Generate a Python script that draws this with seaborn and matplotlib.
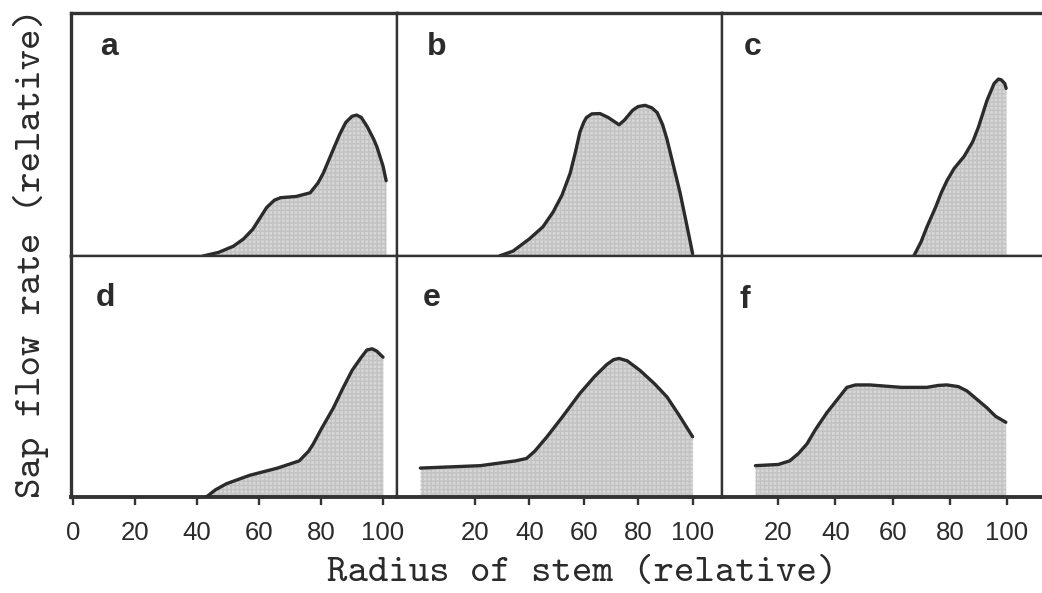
import matplotlib
matplotlib.use("Agg")
import matplotlib.pyplot as plt
import seaborn as sns
import pandas as pd

# ---- data (relative radius, relative sap flow) ----
a_x = [42, 47, 51.7, 55, 58, 60.5, 62.5, 65, 67, 72, 76.5, 79, 80.7, 84, 86, 88, 90, 91.5, 93, 95, 97, 98, 100, 101]
a_y = [0, 1.5, 4, 7, 11, 16, 20, 23, 24, 24.5, 26, 30, 34, 44, 50, 55, 57.5, 58, 57, 53, 48, 45, 37, 31]
b_x = [29, 34, 40, 45, 48.7, 52, 55, 57, 58.6, 60, 61, 63, 66, 69, 73, 75, 78, 80, 82.5, 85, 87, 89, 90.6, 93, 95.4, 98, 100]
b_y = [0, 2, 7, 12, 18, 25, 34, 43, 51, 55, 57, 58.5, 58.6, 57, 54, 56, 60, 61.5, 62, 61, 59, 54, 48, 37, 26, 12, 1]
c_x = [67.4, 70, 72, 75, 77, 79, 81.5, 85, 88, 90, 93, 95.5, 97, 98, 99.2, 99.7]
c_y = [0, 6, 12, 20, 26, 31, 36, 41, 47, 53, 64, 71, 72.8, 72.5, 71, 69]
d_x = [43, 46, 49.5, 57, 66, 73, 76, 77.5, 80, 84, 87, 90, 93, 94.8, 96.5, 98, 100]
d_y = [0, 3, 5.5, 9, 12, 15, 19, 22, 28, 37, 45, 52.5, 58, 61, 61.5, 60.5, 58]
e_x = [0, 22, 35, 39, 42, 46.5, 52, 58.6, 64, 68.5, 71, 73, 76, 80.7, 86, 90.6, 95, 100]
e_y = [12, 13, 15, 16, 19, 25, 33, 43, 50, 55, 57, 57.5, 56.5, 52.5, 47, 41.5, 34, 25]
f_x = [12, 20, 24, 27, 30, 33, 37, 41, 44, 47, 52, 63, 72, 76, 79, 83, 86, 90, 93, 96, 99.6]
f_y = [13, 13.5, 15, 18, 22, 28, 35, 41, 45.5, 46.5, 46.5, 45.5, 45.5, 46.3, 46.5, 45.8, 44, 40, 37, 33.5, 31]

panel_labels = ["a", "b", "c", "d", "e", "f"]
col_ticks = [[0, 20, 40, 60, 80, 100], [20, 40, 60, 80, 100], [20, 40, 60, 80, 100]]
x_label = "Radius of stem (relative)"
y_label = "Sap flow rate (relative)"

series = [(a_x, a_y), (b_x, b_y), (c_x, c_y), (d_x, d_y), (e_x, e_y), (f_x, f_y)]

# ---- layout ----
W, H = 1042, 593
sns.set_theme(style="white")
plt.rcParams["font.family"] = ["Liberation Sans", "DejaVu Sans"]
fig = plt.figure(figsize=(W / 100, H / 100), dpi=100)

col_px = [(71, 397), (397, 722), (722, 1043)]
row_px = [(13, 256), (256, 497)]
col_xlim = [(-0.6, 104.5), (-8.6, 110.8), (0.3, 112.6)]
label_off = [(29, 42), (30, 42), (22, 42), (25, 50), (26, 50), (18, 52)]

line_c = "#2b2b2b"
spine_c = "#333333"
fill_c = "#d6d6d6"

for i, (xs, ys) in enumerate(series):
    r, c = divmod(i, 3)
    x0, x1 = col_px[c]
    y0, y1 = row_px[r]
    ax = fig.add_axes([x0 / W, 1 - y1 / H, (x1 - x0) / W, (y1 - y0) / H])
    df = pd.DataFrame({"x": xs, "y": ys})
    ax.fill_between(df["x"], 0, df["y"], color=fill_c, linewidth=0, zorder=1)
    ax.fill_between(df["x"], 0, df["y"], facecolor="none", edgecolor="#c2c2c2",
                    hatch="++++", linewidth=0, zorder=1)
    sns.lineplot(data=df, x="x", y="y", ax=ax, color=line_c, linewidth=2.4,
                 sort=False, estimator=None, zorder=3,
                 solid_joinstyle="round", solid_capstyle="round")
    ax.set_xlim(*col_xlim[c])
    ax.set_ylim(0, 100)
    ax.set_xlabel("")
    ax.set_ylabel("")
    ax.set_yticks([])
    for s in ax.spines.values():
        s.set_color(spine_c)
        s.set_linewidth(1.7)
        s.set_visible(True)
    if c == 2:
        ax.spines["right"].set_visible(False)
    if r == 0:
        ax.spines["top"].set_linewidth(2.4)
    if c == 0:
        ax.spines["left"].set_linewidth(2.4)
    if r == 1:
        ax.spines["bottom"].set_linewidth(2.8)
        ax.set_xticks(col_ticks[c])
        ax.tick_params(axis="x", bottom=True, direction="out", length=6, width=1.7,
                       color=spine_c, pad=11, labelsize=18.5, labelcolor="#2b2b2b")
    else:
        ax.set_xticks([])
    ox, oy = label_off[i]
    ax.annotate(panel_labels[i], xy=(0, 1), xycoords="axes fraction",
                xytext=(ox * 0.72, -oy * 0.72), textcoords="offset points",
                ha="left", va="baseline", fontsize=23, fontweight="bold",
                color="#2b2b2b")

fig.text(582 / W, 1 - 574 / H, x_label, ha="center", va="center",
         fontsize=28, family="cmtt10", color="#2b2b2b")
fig.text(31 / W, 1 - 253 / H, y_label, ha="center", va="center", rotation=90,
         fontsize=28, family="cmtt10", color="#2b2b2b")

fig.savefig("out.png", dpi=100)
